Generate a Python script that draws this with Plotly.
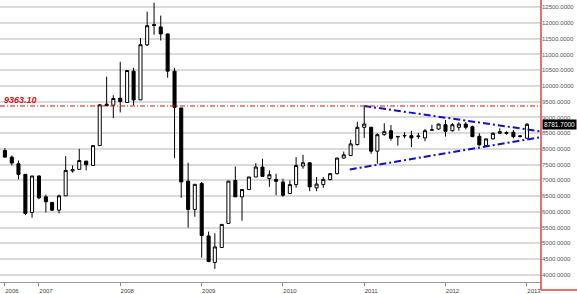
import pandas as pd
import plotly.graph_objects as go

months = pd.date_range("2006-08-01", periods=78, freq="MS")

opens = [7946, 7738, 7527, 7190, 5981, 7139, 6476, 6296, 6053, 6507, 7300, 7347, 7612, 7473, 8104, 9420, 9388, 9609,
         9473, 10470, 9556, 11304, 11950, 11874, 11653, 10470, 9300, 6975, 6075, 6896, 5233, 4391, 4865, 5631, 6996, 6476,
         6707, 7107, 7423, 7053, 7031, 6949, 6580, 6864, 7454, 7558, 6760, 6864, 7022, 7211, 7707, 7789, 8136, 8685,
         8685, 7927, 8451, 8577, 8380, 8410, 8420, 8395, 8347, 8595, 8631, 8767, 8577, 8685, 8789, 8704, 8400, 8104,
         8316, 8495, 8490, 8527, 8390, 8337]
highs = [8022, 7790, 7631, 7200, 7139, 7158, 6549, 6318, 6549, 7770, 7473, 8000, 7612, 8104, 9420, 10294, 9704, 10767,
         10490, 10576, 11522, 12361, 12645, 12235, 11653, 10576, 9300, 7558, 6874, 6949, 5372, 5320, 5600, 6976, 7439, 6707,
         7107, 7545, 7684, 7315, 7211, 7053, 7000, 7738, 7811, 7558, 7107, 7100, 7230, 7720, 7915, 8293, 8861, 9363,
         8700, 8495, 8811, 8757, 8400, 8527, 8577, 8505, 8631, 8767, 8800, 8915, 8820, 8842, 8850, 8740, 8495, 8330,
         8530, 8653, 8560, 8600, 8420, 8820]
lows = [7720, 7473, 7031, 5895, 5813, 6400, 5981, 6034, 5949, 6507, 7243, 7347, 7315, 7473, 8104, 9363, 8978, 9158,
        9473, 9388, 9556, 11268, 11626, 11443, 10262, 7706, 6444, 5498, 5845, 4547, 4400, 4190, 4865, 5631, 6476, 5719,
        6707, 7107, 7126, 6792, 6527, 6476, 6560, 6765, 7369, 6653, 6653, 6760, 7000, 7190, 7690, 7770, 8104, 8347,
        7842, 7527, 8420, 8262, 8104, 8337, 8053, 8316, 8243, 8580, 8600, 8389, 8550, 8577, 8620, 8369, 8104, 8073,
        8300, 8480, 8450, 8337, 8360, 8320]
closes = [7738, 7549, 7190, 5949, 7139, 6444, 6318, 6053, 6507, 7315, 7340, 7631, 7495, 8104, 9400, 9370, 9600, 9505,
          10490, 9556, 11310, 11914, 11920, 11653, 10470, 9315, 6949, 6075, 6874, 5246, 4423, 4886, 5600, 6976, 6476, 6707,
          7107, 7423, 7126, 7180, 6968, 6527, 6864, 7473, 7558, 6792, 6880, 7031, 7211, 7707, 7811, 8158, 8685, 8789,
          7927, 8451, 8546, 8337, 8395, 8425, 8347, 8405, 8577, 8605, 8789, 8558, 8767, 8789, 8685, 8389, 8126, 8316,
          8495, 8546, 8520, 8389, 8410, 8781.7]

resistance_level = 9363.10
upper_trend_x = ["2011-01-01", "2013-03-05"]
upper_trend_y = [9363, 8555]
lower_trend_x = ["2010-10-28", "2013-03-05"]
lower_trend_y = [7347, 8375]

year_tick_dates = ["2006-08-01", "2007-01-01", "2008-01-01", "2009-01-01", "2010-01-01",
                   "2011-01-01", "2012-01-01", "2013-01-01"]
year_tick_labels = ["2006", "2007", "2008", "2009", "2010", "2011", "2012", "2013"]
y_ticks = list(range(4000, 13000, 500))

fig = go.Figure()
fig.add_trace(go.Candlestick(
    x=months, open=opens, high=highs, low=lows, close=closes,
    increasing=dict(line=dict(color="black", width=1), fillcolor="white"),
    decreasing=dict(line=dict(color="black", width=1), fillcolor="black"),
    whiskerwidth=0, hoverinfo="skip", showlegend=False,
))
fig.add_trace(go.Scatter(x=upper_trend_x, y=upper_trend_y, mode="lines",
                         line=dict(color="#1010c8", width=2, dash="7px,3px,2px,3px"),
                         hoverinfo="skip", showlegend=False))
fig.add_trace(go.Scatter(x=lower_trend_x, y=lower_trend_y, mode="lines",
                         line=dict(color="#1010c8", width=2, dash="7px,3px,2px,3px"),
                         hoverinfo="skip", showlegend=False))

fig.add_hline(y=resistance_level, line=dict(color="#e01010", width=1, dash="5px,2px,1px,2px"))
fig.add_annotation(x=0.004, xref="paper", y=resistance_level, yref="y", text="<b><i>9363.10</i></b>",
                   showarrow=False, xanchor="left", yanchor="bottom", yshift=-1,
                   font=dict(family="Liberation Sans", size=9, color="#e01010"))
fig.add_annotation(x=1, xref="paper", y=closes[-1], yref="y", text="%.4f" % closes[-1],
                   showarrow=False, xanchor="left", yanchor="middle", xshift=1,
                   bgcolor="black", borderpad=1,
                   font=dict(family="Liberation Sans", size=6.5, color="white"))

# red frame of price pane
fig.add_shape(type="line", xref="paper", yref="paper", x0=1, x1=1, y0=-0.028, y1=1,
              line=dict(color="#e04040", width=1.5))
fig.add_shape(type="line", xref="paper", yref="paper", x0=1, x1=1.07, y0=-0.028, y1=-0.028,
              line=dict(color="#e04040", width=1.5))

fig.update_layout(
    width=577, height=294,
    margin=dict(l=0, r=36, t=0, b=10),
    paper_bgcolor="white", plot_bgcolor="white",
    showlegend=False,
    xaxis=dict(
        type="date", range=["2006-07-10", "2013-03-05"],
        rangeslider=dict(visible=False),
        tickvals=year_tick_dates, ticktext=year_tick_labels,
        ticks="outside", ticklen=3, tickcolor="#888", ticklabelshift=7, ticklabelstandoff=0,
        showgrid=False, showline=True, linecolor="#999", linewidth=1,
        tickfont=dict(family="Liberation Sans", size=6, color="#444"),
        zeroline=False,
    ),
    yaxis=dict(
        side="right", range=[3770, 12730],
        tickvals=y_ticks, tickformat=".4f",
        showgrid=True, gridcolor="#dadada", gridwidth=1.5,
        ticks="", showline=False, zeroline=False,
        tickfont=dict(family="Liberation Sans", size=6, color="#555"),
    ),
)

fig.write_html("out.html")
